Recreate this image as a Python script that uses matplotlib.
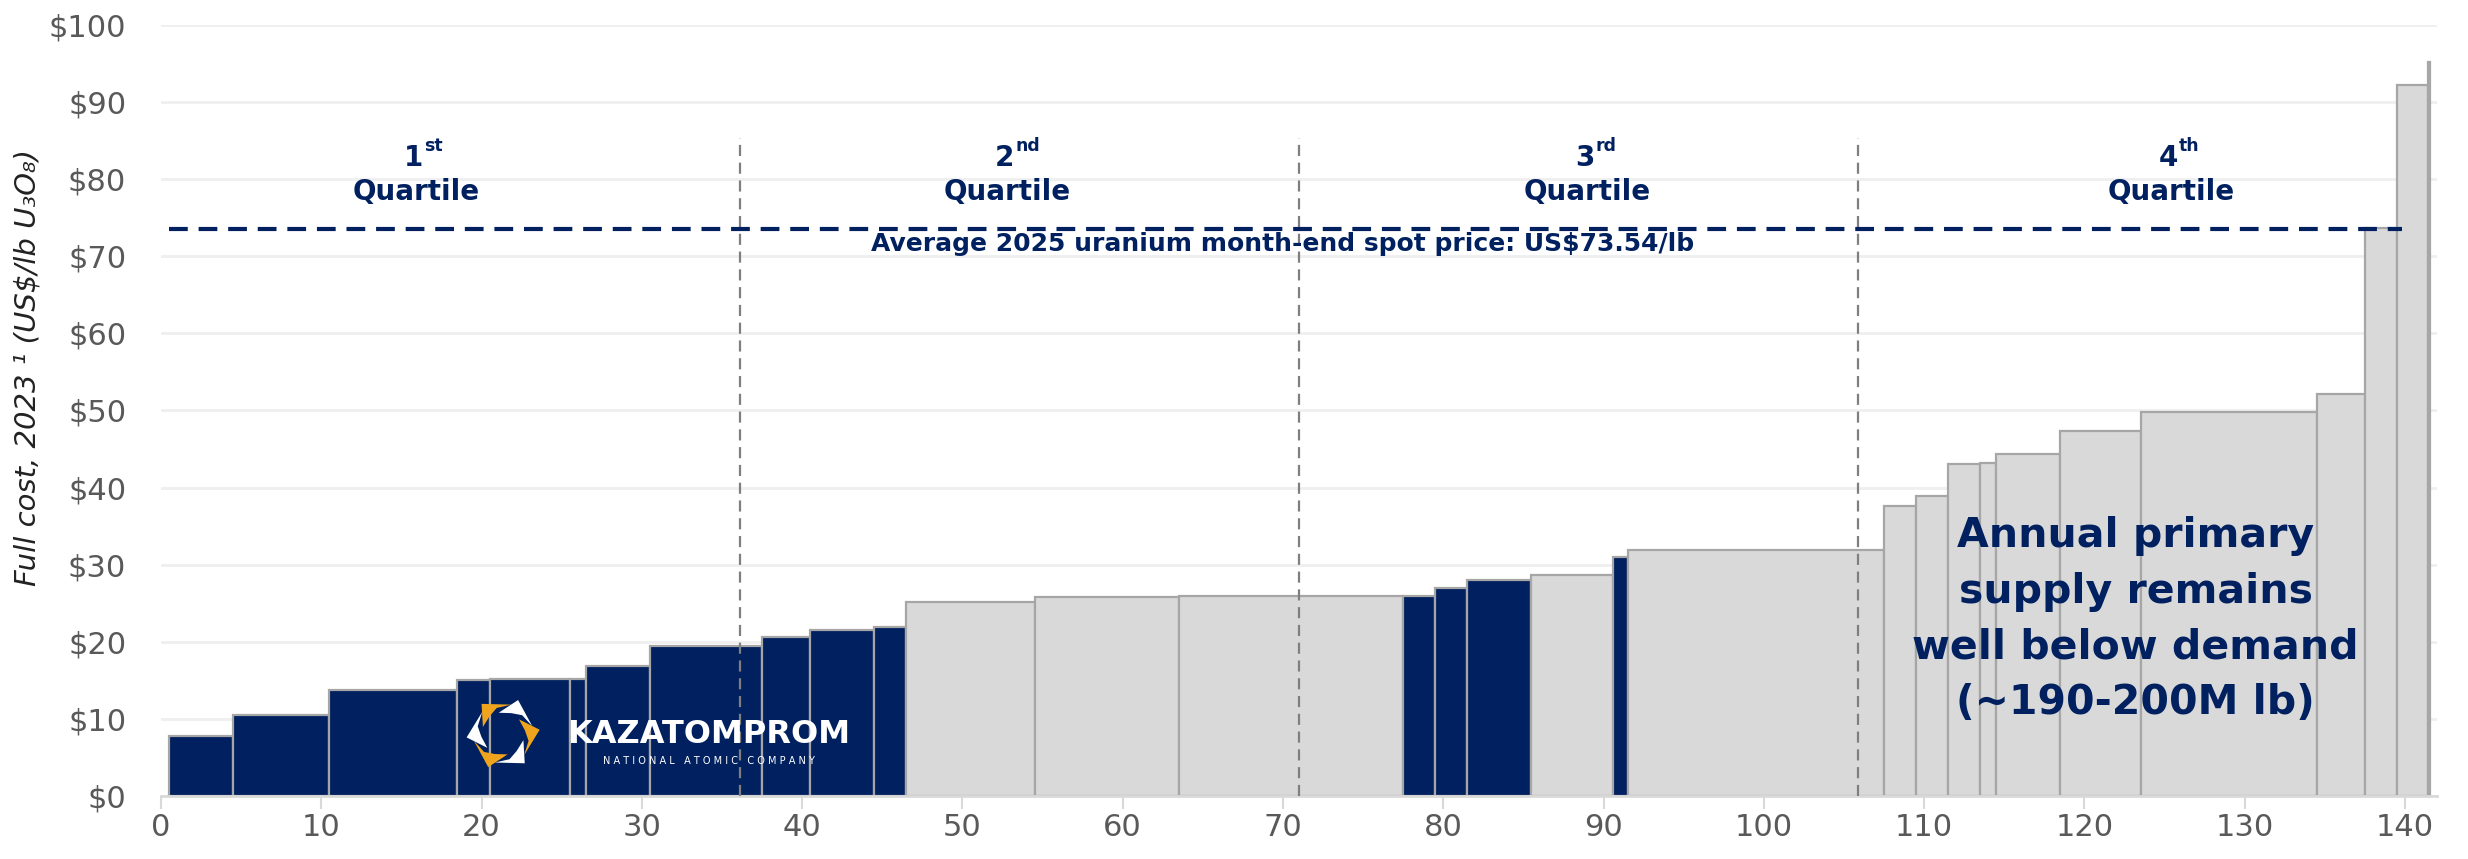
import matplotlib
matplotlib.use('Agg')
import matplotlib.pyplot as plt
import numpy as np
from matplotlib.patches import Polygon
from matplotlib.ticker import FuncFormatter

# Cost curve: annual supply per operation (M lb U3O8) and full cost (US$/lb)
supply_mlb = [4.0, 6.0, 8.0, 2.0, 5.0, 1.0, 4.0, 7.0, 3.0, 4.0, 2.0,
              8.0, 9.0, 14.0, 2.0, 2.0, 4.0, 5.1, 0.9, 16.0,
              2.0, 2.0, 2.0, 1.0, 4.0, 5.0, 11.0, 3.0, 2.0, 1.95, 0.1]
full_cost = [7.8, 10.5, 13.7, 15.1, 15.2, 15.2, 16.9, 19.5, 20.6, 21.5, 21.9,
             25.2, 25.8, 25.9, 26.0, 27.0, 28.0, 28.7, 31.0, 31.9,
             37.6, 38.9, 43.0, 43.2, 44.3, 47.3, 49.8, 52.1, 73.6, 92.2, 95.2]
is_kap = [1, 1, 1, 1, 1, 1, 1, 1, 1, 1, 1,
          0, 0, 0, 1, 1, 1, 0, 1, 0,
          0, 0, 0, 0, 0, 0, 0, 0, 0, 0, 0]
curve_start = 0.5

quartile_bounds = [36.1, 71.0, 105.9]
quartile_centres = [15.9, 52.8, 89.0, 125.4]
quartile_nums = ['1', '2', '3', '4']
quartile_sups = ['st', 'nd', 'rd', 'th']

spot_price = 73.54
spot_label = 'Average 2025 uranium month-end spot price: US\\$73.54/lb'

x_ticks = list(range(0, 141, 10))
y_ticks = list(range(0, 101, 10))

NAVY = '#002060'
GREY = '#D9D9D9'
EDGE = '#A6A6A6'
TXT = '#595959'
ORANGE = '#F0A31D'

fig = plt.figure(figsize=(24.68, 8.59), dpi=100)
ax = fig.add_axes([0.0652, 0.0733, 0.9223, 0.8977])

starts = curve_start + np.concatenate([[0.0], np.cumsum(supply_mlb)[:-1]])
colors = [NAVY if k else GREY for k in is_kap]
ax.bar(starts, full_cost, width=supply_mlb, align='edge', color=colors,
       edgecolor=EDGE, linewidth=1.6, zorder=2)

# quartile separators and labels
ax.vlines(quartile_bounds, 0, 85.3, colors='#7F7F7F', linestyles=(0, (5, 3)),
          linewidth=1.6, zorder=3)
for xc, num, sup in zip(quartile_centres, quartile_nums, quartile_sups):
    ax.text(xc + 0.45, 81.7, num, ha='right', va='baseline', fontsize=20,
            fontweight='bold', color=NAVY)
    ax.text(xc + 0.5, 83.7, sup, ha='left', va='baseline', fontsize=12.5,
            fontweight='bold', color=NAVY)
    ax.text(xc, 78.3, 'Quartile', ha='center', va='center', fontsize=20,
            fontweight='bold', color=NAVY)

# spot price
ax.hlines(spot_price, 0.5, 139.8, colors=NAVY, linestyles=(0, (4.5, 2.6)),
          linewidth=3, zorder=4)
ax.text(70.0, 71.6, spot_label, ha='center', va='center', fontsize=18,
        fontweight='bold', color=NAVY, zorder=5)

ax.text(123.2, 22.9, 'Annual primary\nsupply remains\nwell below demand\n(~190-200M lb)',
        ha='center', va='center', fontsize=29.5, fontweight='bold', color=NAVY,
        linespacing=1.5, zorder=5)

# company logo
ax.text(34.2, 8.0, 'KAZATOMPROM', ha='center', va='center', fontsize=23,
        fontweight='bold', color='white', zorder=6)
ax.text(34.2, 4.6, ' '.join('NATIONAL ATOMIC COMPANY'), ha='center', va='center',
        fontsize=7, color='white', zorder=6)
icon = ax.inset_axes([18.65, 3.1, 5.4, 10.0], transform=ax.transData, zorder=6)
icon.set_xlim(-1.05, 1.05)
icon.set_ylim(-1.05, 1.05)
icon.set_aspect('equal')
icon.axis('off')


def polar(r, deg):
    a = np.deg2rad(deg)
    return (r * np.cos(a), r * np.sin(a))


# six pinwheel blades, alternating white / orange
for k in range(6):
    phi = 66 + 60 * k
    blade = [polar(1.0, phi), polar(0.82, phi - 52), polar(0.72, phi - 22),
             polar(0.6, phi + 2), polar(0.58, phi + 36)]
    icon.add_patch(Polygon(blade, closed=True, lw=0,
                           color='white' if k % 2 == 0 else ORANGE))

# axes styling
ax.set_xlim(0, 142)
ax.set_ylim(0, 100)
ax.set_xticks(x_ticks)
ax.set_yticks(y_ticks)
ax.yaxis.set_major_formatter(FuncFormatter(lambda v, p: f'\\${v:.0f}'))
ax.grid(axis='y', color='#EFEFEF', linewidth=2, zorder=0)
ax.set_axisbelow(True)
for s in ['top', 'right', 'left']:
    ax.spines[s].set_visible(False)
ax.spines['bottom'].set_color('#D9D9D9')
ax.spines['bottom'].set_linewidth(2)
ax.tick_params(axis='y', length=0, pad=25, labelsize=22, labelcolor=TXT)
ax.tick_params(axis='x', length=9, width=1.5, color='#D9D9D9', pad=3,
               labelsize=22, labelcolor=TXT)

fig.text(0.0113, 0.5716, 'Full cost, 2023 \u00b9 (US\\$/lb U\u2083O\u2088)', rotation=90,
         ha='center', va='center', fontsize=21, style='italic', color='#222222')

fig.savefig('out.png', dpi=100)
